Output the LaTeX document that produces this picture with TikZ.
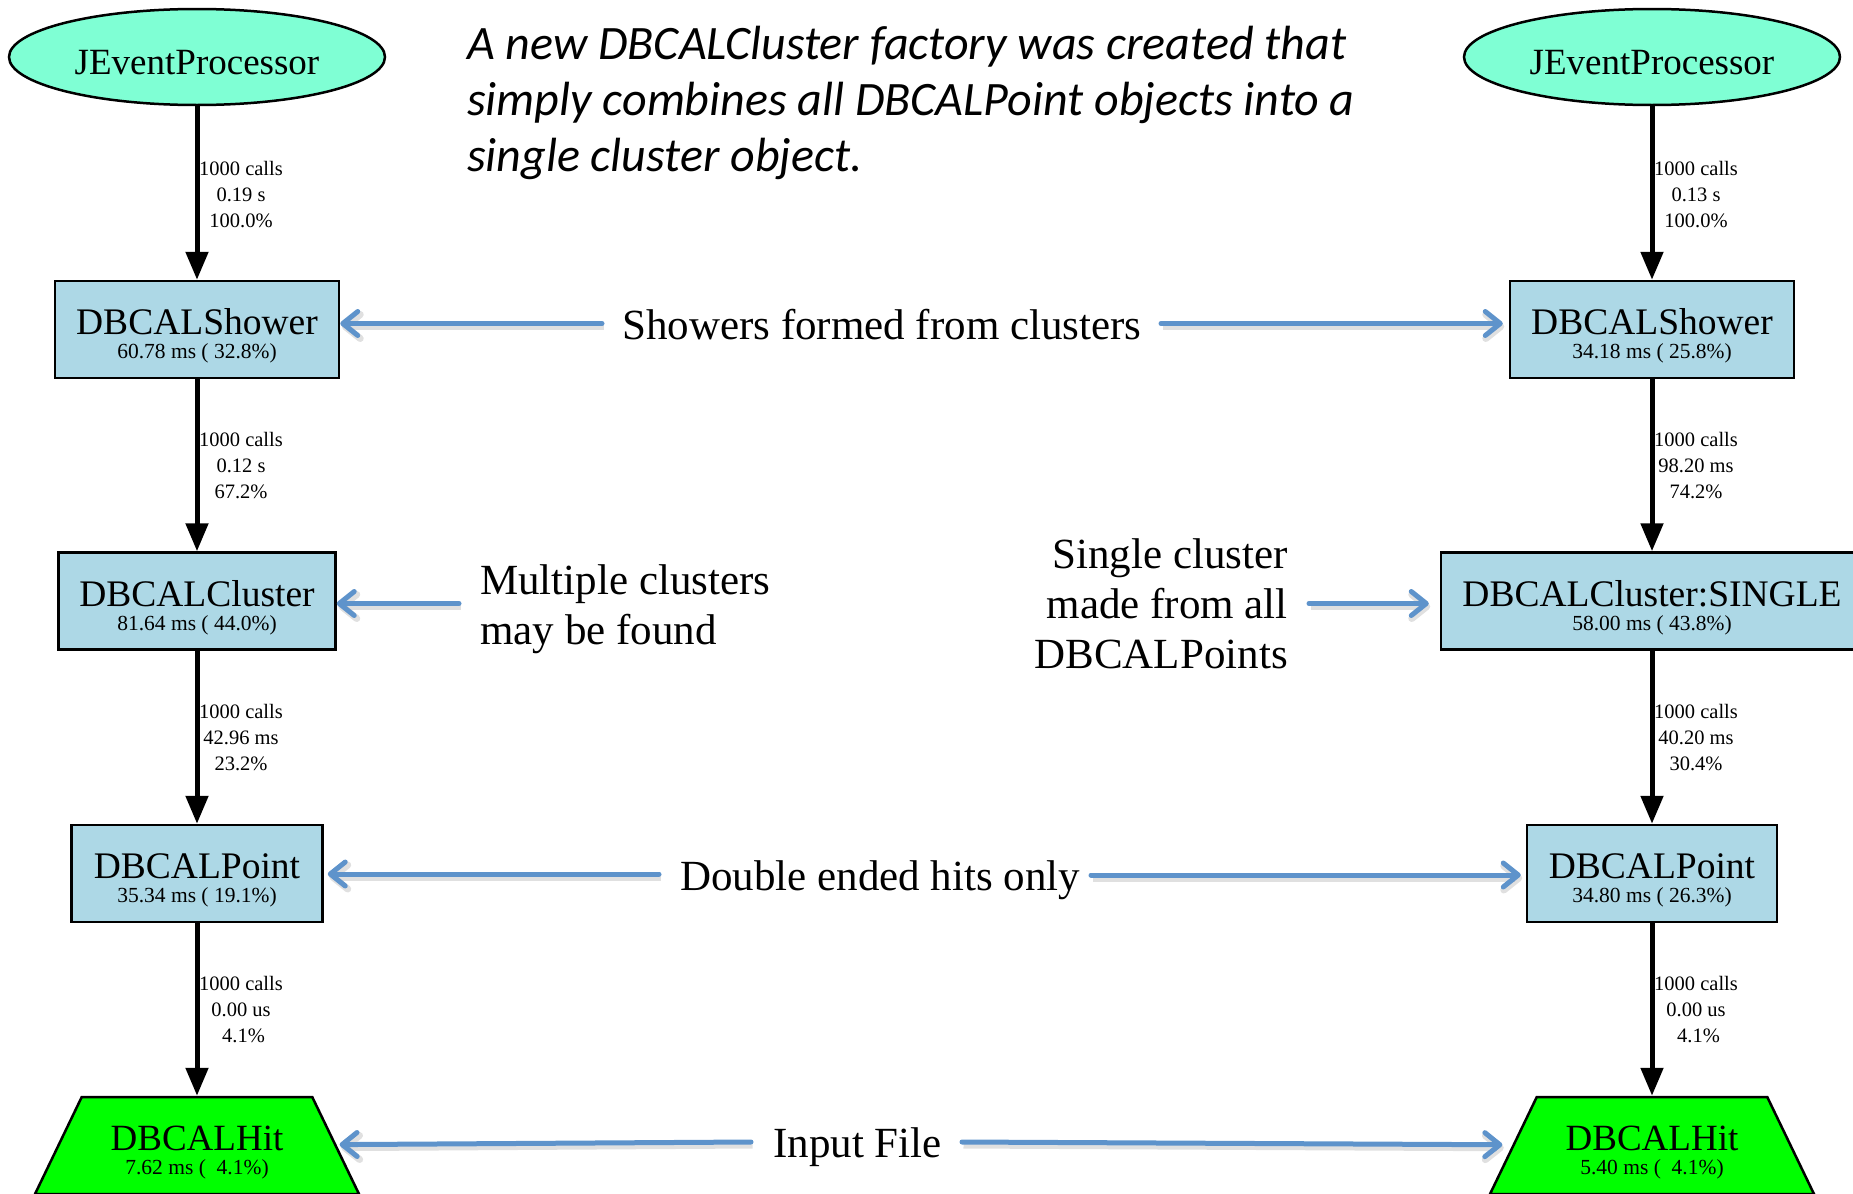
\documentclass[tikz,border=0pt]{standalone}
\usepackage{fontspec}
\setmainfont{Liberation Serif}
\newfontfamily\notefont{Carlito}
\usetikzlibrary{arrows.meta,shapes.geometric,calc}

\definecolor{procfill}{HTML}{7FFFD4}
\definecolor{facfill}{HTML}{ADD8E6}
\definecolor{srcfill}{HTML}{00FF00}
\definecolor{noteblue}{RGB}{94,147,203}

\tikzset{
  proc/.style={ellipse, draw, line width=2.5pt, fill=procfill,
    minimum width=376pt, minimum height=96pt, inner sep=0pt,
    font=\fontsize{37}{37}\selectfont, text height=40pt, text depth=6pt},
  fac/.style={rectangle, draw, line width=2.5pt, fill=facfill,
    minimum height=97pt, inner sep=0pt,
    font=\fontsize{37.5}{37.5}\selectfont, text height=30pt, text depth=20pt},
  src/.style={trapezium, trapezium left angle=55, trapezium right angle=55,
    trapezium stretches=true, draw, line width=2.5pt, fill=srcfill,
    minimum width=324pt, minimum height=97pt, inner sep=0pt,
    font=\fontsize{37}{37}\selectfont, text height=30pt, text depth=20pt},
  stat/.style={anchor=base, inner sep=0pt, font=\fontsize{21.5}{21.5}\selectfont},
  calls/.style={align=center, inner sep=0pt, font=\fontsize{20.5}{26}\selectfont},
  flow/.style={line width=5pt, -{Triangle[length=28pt,width=22pt]}},
  note/.style={inner sep=0pt, font=\fontsize{43}{50}\selectfont},
  pointer/.style={
    preaction={draw=black, draw opacity=0.12, line width=7pt,
      transform canvas={xshift=1.5pt,yshift=-3pt}},
    draw=noteblue, line width=5pt, line cap=round,
    -{Straight Barb[length=15pt,width=24pt,round]}},
}

\begin{document}
\begin{tikzpicture}[x=1pt,y=-1pt]
\useasboundingbox (0,0) rectangle (1853,1194);
\clip (0,0) rectangle (1853,1194);

% ---- left call graph (original factories) ----
\node[proc] (lproc) at (197,57) {JEventProcessor};
\node[fac, minimum width=284pt] (lshower) at (197,329.5) {DBCALShower};
\node[stat] (lshower-t) at ($(lshower.center)+(0,29)$) {60.78 ms ( 32.8\%)};
\node[fac, minimum width=277pt] (lcluster) at (197,601) {DBCALCluster};
\node[stat] (lcluster-t) at ($(lcluster.center)+(0,29)$) {81.64 ms ( 44.0\%)};
\node[fac, minimum width=251pt] (lpoint) at (197,873.5) {DBCALPoint};
\node[stat] (lpoint-t) at ($(lpoint.center)+(0,29)$) {35.34 ms ( 19.1\%)};
\node[src] (lhit) at (197,1145.5) {DBCALHit};
\node[stat] (lhit-t) at ($(lhit.center)+(0,29)$) {7.62 ms (\ \ 4.1\%)};

\draw[flow] (lproc) -- (lshower);
\draw[flow] (lshower) -- (lcluster);
\draw[flow] (lcluster) -- (lpoint);
\draw[flow] (lpoint) -- (lhit);

\node[calls] (le1) at (241,195) {1000 calls\\0.19 s\\100.0\%};
\node[calls] (le2) at (241,466) {1000 calls\\0.12 s\\67.2\%};
\node[calls] (le3) at (241,738) {1000 calls\\42.96 ms\\23.2\%};
\node[calls] (le4) at (241,1010) {1000 calls\\0.00 us\\\ 4.1\%};

% ---- right call graph (single-cluster factory) ----
\node[proc] (rproc) at (1652,57) {JEventProcessor};
\node[fac, minimum width=284pt] (rshower) at (1652,329.5) {DBCALShower};
\node[stat] (rshower-t) at ($(rshower.center)+(0,29)$) {34.18 ms ( 25.8\%)};
\node[fac, minimum width=422pt] (rcluster) at (1652,601) {DBCALCluster:SINGLE};
\node[stat] (rcluster-t) at ($(rcluster.center)+(0,29)$) {58.00 ms ( 43.8\%)};
\node[fac, minimum width=250pt] (rpoint) at (1652,873.5) {DBCALPoint};
\node[stat] (rpoint-t) at ($(rpoint.center)+(0,29)$) {34.80 ms ( 26.3\%)};
\node[src] (rhit) at (1652,1145.5) {DBCALHit};
\node[stat] (rhit-t) at ($(rhit.center)+(0,29)$) {5.40 ms (\ \ 4.1\%)};

\draw[flow] (rproc) -- (rshower);
\draw[flow] (rshower) -- (rcluster);
\draw[flow] (rcluster) -- (rpoint);
\draw[flow] (rpoint) -- (rhit);

\node[calls] (re1) at (1696,195) {1000 calls\\0.13 s\\100.0\%};
\node[calls] (re2) at (1696,466) {1000 calls\\98.20 ms\\74.2\%};
\node[calls] (re3) at (1696,738) {1000 calls\\40.20 ms\\30.4\%};
\node[calls] (re4) at (1696,1010) {1000 calls\\0.00 us\\\ 4.1\%};

% ---- explanatory notes ----
\node[anchor=north west, inner sep=0pt, align=left,
  font=\fontsize{48}{56}\selectfont\notefont\itshape] (title) at (467,26)
  {A new DBCALCluster factory was created that\\simply combines all DBCALPoint objects into a\\single cluster object.};

\node[note, anchor=base west] (showers) at (622,339) {Showers formed from clusters};
\node[note, anchor=north west, align=left] (multi) at (480,564.6) {Multiple clusters\\may be found};
\node[note, anchor=north east, align=right] (single) at (1288,538.6) {Single cluster\\made from all\\DBCALPoints};
\node[note, anchor=base west] (double) at (680,890) {Double ended hits only};
\node[note, anchor=base west] (input) at (773,1157) {Input File};

% ---- pointers from the notes to the factories ----
\coordinate (p1) at (602,323.5);
\coordinate (p2) at (1161,323.5);
\coordinate (p3) at (459,603.5);
\coordinate (p4) at (1309,603.5);
\coordinate (p5) at (659,874);
\coordinate (p6) at (1091,875);
\coordinate (p7) at (751,1142);
\coordinate (p8) at (962,1142);

\draw[pointer] (p1) -- (p1 -| lshower.east);
\draw[pointer, shorten >=6pt] (p2) -- (p2 -| rshower.west);
\draw[pointer] (p3) -- (p3 -| lcluster.east);
\draw[pointer, shorten >=11pt] (p4) -- (p4 -| rcluster.west);
\draw[pointer, shorten >=4pt] (p5) -- (p5 -| lpoint.east);
\draw[pointer, shorten >=5pt] (p6) -- (p6 -| rpoint.west);
\draw[pointer, shorten >=3pt] (p7) -- (lhit);
\draw[pointer, shorten >=10pt] (p8) -- (rhit);
\end{tikzpicture}
\end{document}
